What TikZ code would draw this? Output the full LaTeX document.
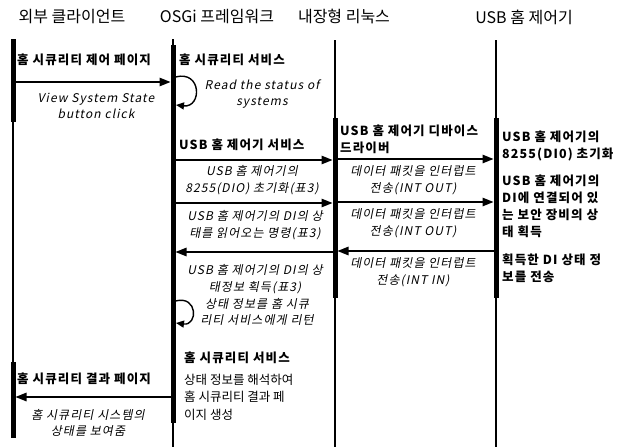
\documentclass[tikz,border=0pt]{standalone}
\usepackage{fontspec}
\setmainfont{Noto Sans CJK KR}
\newfontfamily\itfont{Noto Sans CJK KR}[FakeSlant=0.2,LetterSpace=9]
\newfontfamily\bdfont{Noto Sans CJK KR}[LetterSpace=9]
\usetikzlibrary{arrows.meta}

\begin{document}
\begin{tikzpicture}[x=1pt,y=-1pt,
	life/.style={line width=1.4pt},
	act/.style={line width=5pt},
	msg/.style={line width=1.4pt,-{Triangle[length=11pt,width=8.5pt]},shorten >=2.5pt},
	loopmsg/.style={line width=1.4pt,-{Triangle[length=8pt,width=7pt]}},
	head/.style={font=\fontsize{16}{18}\selectfont},
	bold/.style={font=\fontsize{12.5}{17}\bdfont\bfseries,align=left,anchor=west,inner sep=0pt},
	note/.style={font=\fontsize{12}{16.5}\itfont,align=center,inner sep=0pt},
	plain/.style={font=\fontsize{12.5}{17.5}\selectfont,align=left,anchor=west,inner sep=0pt}]
	\useasboundingbox (0,0) rectangle (621,447);

	% headers
	\node[head] (hcli) at (72,17) {외부 클라이언트};
	\node[head] (hosgi) at (217,17) {OSGi 프레임워크};
	\node[head] (hlinux) at (344,17) {내장형 리눅스};
	\node[head] (husb) at (524,17) {USB 홈 제어기};

	% lifelines
	\draw [act] (13,39) -- (13,122);
	\draw [life] (13,122) -- (13,362);
	\draw [act] (13,362) -- (13,438);

	\draw [life] (173,39) -- (173,45);
	\draw [act] (173,45) -- (173,423);
	\draw [life] (173,423) -- (173,447);

	\draw [life] (335,40) -- (335,118);
	\draw [act] (335,118) -- (335,298);
	\draw [life] (335,298) -- (335,447);

	\draw [life] (496,40) -- (496,118);
	\draw [act] (496,118) -- (496,298);
	\draw [life] (496,298) -- (496,447);

	% message ends
	\coordinate (c1) at (13,82);   \coordinate (o1) at (173,82);
	\coordinate (o2) at (173,160); \coordinate (l2) at (335,160); \coordinate (u2) at (496,159);
	\coordinate (o3) at (173,203); \coordinate (l3) at (335,203); \coordinate (u3) at (496,202);
	\coordinate (u4) at (496,251); \coordinate (l4) at (335,251); \coordinate (o4) at (173,252);
	\coordinate (o5) at (173,397); \coordinate (c5) at (13,397);
	\coordinate (s1a) at (175.5,77);  \coordinate (s1b) at (176,105);
	\coordinate (s2a) at (175.5,301); \coordinate (s2b) at (176,323);

	\draw [msg] (c1) -- (o1);
	\draw [msg] (o2) -- (l2);
	\draw [msg] (l2 |- u2) -- (u2);
	\draw [msg] (o3) -- (l3);
	\draw [msg] (l3 |- u3) -- (u3);
	\draw [msg] (u4) -- (l4);
	\draw [msg] (l4 |- o4) -- (o4);
	\draw [msg] (o5) -- (c5);
	\draw [loopmsg] (s1a) .. controls (202,70) and (202,108) .. (s1b);
	\draw [loopmsg] (s2a) .. controls (198,295) and (198,326) .. (s2b);

	% client
	\node[bold] (tpage) at (17,60) {홈 시큐리티 제어 페이지};
	\node[note] (tclick) at (96,106) {View System State\\button click};
	\node[bold] (tresult) at (17,379) {홈 시큐리티 결과 페이지};
	\node[note] (tshow) at (88,423) {홈 시큐리티 시스템의\\상태를 보여줌};

	% osgi
	\node[bold] (tsec) at (179,60) {홈 시큐리티 서비스};
	\node[note] (tread) at (262,94) {Read the status of\\systems};
	\node[bold] (tusbsvc) at (179,145) {USB 홈 제어기 서비스};
	\node[note] (tinit) at (252,180) {USB 홈 제어기의\\8255(DIO) 초기화(표3)};
	\node[note] (tcmd) at (255,225) {USB 홈 제어기의 DI의 상\\태를 읽어오는 명령(표3)};
	\node[note] (tget) at (255,279) {USB 홈 제어기의 DI의 상\\태정보 획득(표3)};
	\node[note] (tret) at (257,312) {상태 정보를 홈 시큐\\리티 서비스에게 리턴};
	\node[bold] (tsec2) at (184,358) {홈 시큐리티 서비스};
	\node[plain] (tparse) at (184,397) {상태 정보를 해석하여\\홈 시큐리티 결과 페\\이지 생성};

	% linux
	\node[bold] (tdrv) at (340,139) {USB 홈 제어기 디바이스\\드라이버};
	\node[note] (tout1) at (413,180) {데이터 패킷을 인터럽트\\전송(INT OUT)};
	\node[note] (tout2) at (413,223) {데이터 패킷을 인터럽트\\전송(INT OUT)};
	\node[note] (tin) at (413,272) {데이터 패킷을 인터럽트\\전송(INT IN)};

	% usb
	\node[bold] (tdio) at (502,146) {USB 홈 제어기의\\8255(DI0) 초기화};
	\node[bold] (tstate) at (502,206) {USB 홈 제어기의\\DI에 연결되어 있\\는 보안 장비의 상\\태 획득};
	\node[bold] (tsend) at (502,268) {획득한 DI 상태 정\\보를 전송};
\end{tikzpicture}
\end{document}
